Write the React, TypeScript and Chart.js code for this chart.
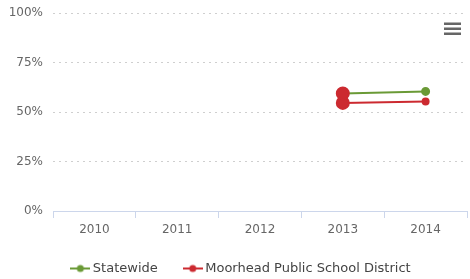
import React, { useEffect, useRef } from "react";
import { Chart, registerables } from "chart.js";

Chart.register(...registerables);

const categories = ["2010", "2011", "2012", "2013", "2014"];
const statewide = [null, null, null, 59.4, 60.4];
const moorhead = [null, null, null, 54.6, 55.3];
const yTicks = [0, 25, 50, 75, 100];

const GREEN = "#6a9a36";
const RED = "#cc2a30";

function legendIcon(color: string): HTMLCanvasElement {
  const c = document.createElement("canvas");
  c.width = 20;
  c.height = 10;
  const ctx = c.getContext("2d")!;
  ctx.strokeStyle = color;
  ctx.lineWidth = 2;
  ctx.beginPath();
  ctx.moveTo(0, 5);
  ctx.lineTo(20, 5);
  ctx.stroke();
  ctx.fillStyle = color;
  ctx.beginPath();
  ctx.arc(10, 5, 3.5, 0, Math.PI * 2);
  ctx.fill();
  return c;
}

const menuPlugin = {
  id: "menuIcon",
  afterLayout(chart: any) {
    if (chart.legend) {
      chart.legend.left += 9;
      chart.legend.right += 9;
    }
  },
  afterDraw(chart: any) {
    const ctx = chart.ctx;
    ctx.save();
    ctx.fillStyle = "#666";
    for (let i = 0; i < 3; i++) {
      ctx.fillRect(444, 22.5 + i * 5, 17, 2.5);
    }
    ctx.restore();
  },
};

export default function App() {
  const ref = useRef<HTMLCanvasElement>(null);
  useEffect(() => {
    document.body.style.margin = "0";
    const chart = new Chart(ref.current!, {
      type: "line",
      data: {
        labels: categories,
        datasets: [
          {
            label: "Statewide",
            data: statewide,
            borderColor: GREEN,
            backgroundColor: GREEN,
            borderWidth: 2,
            pointStyle: "circle",
            pointRadius: [0, 0, 0, 6, 3.5],
            pointBackgroundColor: [GREEN, GREEN, GREEN, RED, GREEN],
            pointBorderColor: [GREEN, GREEN, GREEN, RED, GREEN],
          },
          {
            label: "Moorhead Public School District",
            data: moorhead,
            borderColor: RED,
            backgroundColor: RED,
            borderWidth: 2,
            pointStyle: "circle",
            pointRadius: [0, 0, 0, 6, 3],
            pointBackgroundColor: RED,
            pointBorderColor: RED,
          },
        ],
      },
      options: {
        animation: false,
        responsive: false,
        devicePixelRatio: 1,
        layout: { autoPadding: false, padding: { left: 0, right: 3, top: 13, bottom: -6 } },
        scales: {
          x: {
            offset: true,
            afterFit(scale: any) {
              scale.height = 22;
              scale.paddingLeft = 0;
              scale.paddingRight = 0;
            },
            grid: {
              offset: true,
              drawOnChartArea: false,
              drawTicks: true,
              tickLength: 7,
              color: "#ccd6eb",
            },
            border: { display: true, color: "#ccd6eb" },
            ticks: {
              color: "#666",
              font: { family: "DejaVu Sans", size: 12 },
              padding: 5,
              maxRotation: 0,
            },
          },
          y: {
            min: 0,
            max: 100,
            afterFit(scale: any) {
              scale.width = 53;
              scale.paddingTop = 0;
              scale.paddingBottom = 0;
            },
            afterBuildTicks(scale: any) {
              scale.ticks = yTicks.map((v) => ({ value: v }));
            },
            grid: {
              drawTicks: false,
              color: (c: any) => (c.tick && c.tick.value === 0 ? "rgba(0,0,0,0)" : "#cfcfcf"),
              lineWidth: 1,
            },
            border: { display: false, dash: [2, 4] },
            ticks: {
              color: "#666",
              font: { family: "DejaVu Sans", size: 12 },
              padding: 10,
              callback: (v: any) => v + "%",
            },
          },
        },
        plugins: {
          legend: {
            position: "bottom",
            labels: {
              usePointStyle: true,
              pointStyleWidth: 12,
              padding: 29,
              color: "#444",
              font: { family: "DejaVu Sans", size: 13 },
              generateLabels(chart: any) {
                return chart.data.datasets.map((ds: any, i: number) => ({
                  text: ds.label,
                  pointStyle: legendIcon(i === 0 ? GREEN : RED),
                  fontColor: "#444",
                  datasetIndex: i,
                  hidden: false,
                  lineWidth: 0,
                  strokeStyle: "transparent",
                  fillStyle: "transparent",
                }));
              },
            },
          },
          tooltip: { enabled: false },
        },
      },
      plugins: [menuPlugin],
    });
    return () => chart.destroy();
  }, []);
  return (
    <div style={{ width: 470, height: 279 }}>
      <canvas ref={ref} width={470} height={279} style={{ width: 470, height: 279 }} />
    </div>
  );
}
